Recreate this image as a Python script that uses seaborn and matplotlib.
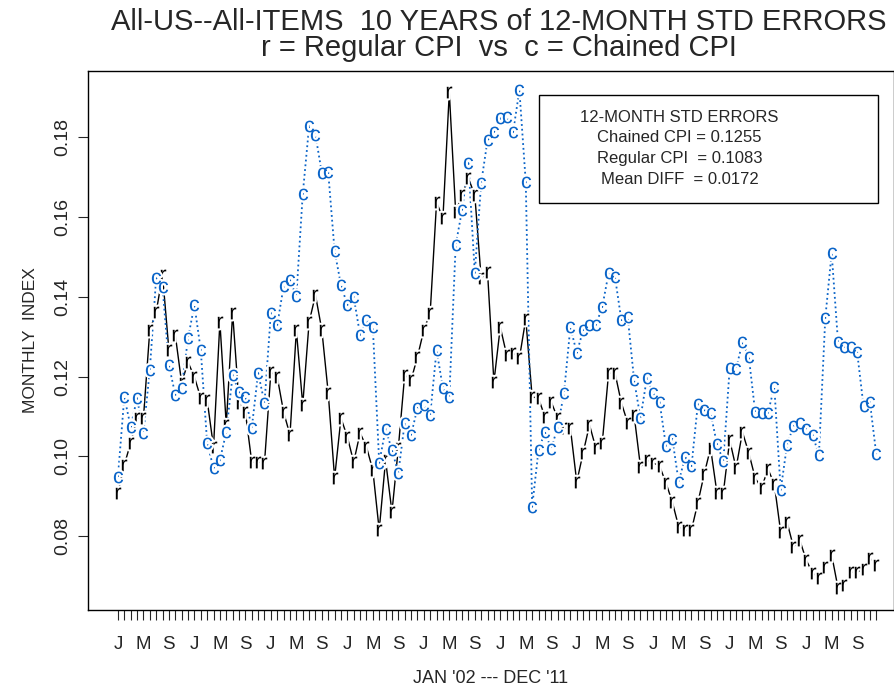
import numpy as np
import pandas as pd
import matplotlib
matplotlib.use("Agg")
import matplotlib.pyplot as plt
import seaborn as sns

# 12-month std errors, Jan 2002 .. Dec 2011
regular = [0.0909, 0.0979, 0.1034, 0.1096, 0.1096, 0.1316, 0.1361, 0.1454, 0.1266, 0.1304, 0.1184, 0.1236,
           0.1199, 0.1146, 0.1141, 0.1024, 0.1336, 0.1079, 0.1359, 0.1134, 0.1111, 0.0986, 0.0986, 0.0984,
           0.1211, 0.1199, 0.1111, 0.1054, 0.1316, 0.1129, 0.1336, 0.1404, 0.1316, 0.1159, 0.0946, 0.1096,
           0.1049, 0.0986, 0.1059, 0.1024, 0.0966, 0.0816, 0.0991, 0.0861, 0.1021, 0.1204, 0.1191, 0.1249,
           0.1316, 0.1359, 0.1636, 0.1596, 0.1911, 0.1611, 0.1654, 0.1696, 0.1654, 0.1446, 0.1461, 0.1186,
           0.1324, 0.1254, 0.1259, 0.1246, 0.1344, 0.1149, 0.1146, 0.1099, 0.1136, 0.1096, 0.1071, 0.1071,
           0.0936, 0.1009, 0.1079, 0.1021, 0.1034, 0.1209, 0.1209, 0.1134, 0.1084, 0.1104, 0.0974, 0.0991,
           0.0984, 0.0976, 0.0934, 0.0886, 0.0824, 0.0816, 0.0816, 0.0884, 0.0956, 0.1021, 0.0909, 0.0909,
           0.1041, 0.0971, 0.1061, 0.1009, 0.0946, 0.0921, 0.0969, 0.0931, 0.0811, 0.0836, 0.0774, 0.0791,
           0.0741, 0.0709, 0.0696, 0.0724, 0.0754, 0.0671, 0.0679, 0.0711, 0.0711, 0.0719, 0.0746, 0.0729]

chained = [0.0949, 0.1149, 0.1074, 0.1146, 0.1059, 0.1216, 0.1446, 0.1424, 0.1229, 0.1154, 0.1171, 0.1296,
           0.1379, 0.1266, 0.1034, 0.0971, 0.0991, 0.1061, 0.1204, 0.1161, 0.1149, 0.1071, 0.1209, 0.1134,
           0.1359, 0.1329, 0.1426, 0.1441, 0.1401, 0.1656, 0.1826, 0.1804, 0.1709, 0.1711, 0.1514, 0.1429,
           0.1379, 0.1399, 0.1304, 0.1341, 0.1324, 0.0984, 0.1069, 0.1016, 0.0959, 0.1084, 0.1054, 0.1121,
           0.1129, 0.1104, 0.1266, 0.1171, 0.1149, 0.1529, 0.1616, 0.1734, 0.1459, 0.1684, 0.1791, 0.1811,
           0.1846, 0.1849, 0.1811, 0.1916, 0.1686, 0.0874, 0.1016, 0.1061, 0.1019, 0.1074, 0.1159, 0.1324,
           0.1259, 0.1316, 0.1329, 0.1329, 0.1374, 0.1459, 0.1449, 0.1341, 0.1349, 0.1191, 0.1096, 0.1196,
           0.1159, 0.1136, 0.1026, 0.1044, 0.0936, 0.0999, 0.0976, 0.1131, 0.1116, 0.1109, 0.1031, 0.0989,
           0.1221, 0.1219, 0.1286, 0.1249, 0.1111, 0.1109, 0.1109, 0.1174, 0.0916, 0.1029, 0.1076, 0.1084,
           0.1069, 0.1054, 0.1004, 0.1346, 0.1509, 0.1286, 0.1274, 0.1274, 0.1261, 0.1126, 0.1136, 0.1006]

month_labels = ["J", "", "", "", "M", "", "", "", "S", "", "", ""] * 10
yticks = [0.08, 0.10, 0.12, 0.14, 0.16, 0.18]

box_lines = ["12-MONTH STD ERRORS", "Chained CPI = 0.1255", "Regular CPI  = 0.1083", "Mean DIFF  = 0.0172"]

months = np.arange(len(regular))
df = pd.DataFrame({"month": months, "regular": regular, "chained": chained})

sns.set_style("ticks")
plt.rcParams["font.family"] = ["Liberation Sans", "DejaVu Sans"]
plt.rcParams["mathtext.default"] = "regular"

blue = "#0a64c8"
r_mark = r"$\mathregular{r}$"
c_mark = r"$\mathregular{c}$"

fig = plt.figure(figsize=(8.95, 6.92), dpi=100)
ax = fig.add_axes([0.0983, 0.1185, 0.9007, 0.7793])

# connecting lines first
sns.lineplot(data=df, x="month", y="regular", ax=ax, color="black", linewidth=1.0)
sns.lineplot(data=df, x="month", y="chained", ax=ax, color=blue, linewidth=1.3, linestyle=":")

# white halo behind each letter, then the letter itself
for col, mk, clr in [("regular", r_mark, "black"), ("chained", c_mark, blue)]:
    sns.lineplot(data=df, x="month", y=col, ax=ax, linestyle="none", marker=mk,
                 markersize=8.5, markeredgewidth=3, markeredgecolor="white",
                 markerfacecolor="white")
    sns.lineplot(data=df, x="month", y=col, ax=ax, linestyle="none", marker=mk,
                 markersize=8.5, markeredgewidth=0, markerfacecolor=clr)

ax.set_xlim(-4.7, 121.8)
ax.set_ylim(0.0616, 0.1965)
ax.set_xticks(months)
ax.set_xticklabels(month_labels, fontsize=13.5)
ax.set_yticks(yticks)
ax.set_yticklabels([f"{v:.2f}" for v in yticks], fontsize=14, rotation=90, va="center")
ax.tick_params(axis="x", length=7, width=0.8, pad=12)
ax.tick_params(axis="y", length=7, width=0.8, pad=5)
ax.set_xlabel("JAN '02 --- DEC '11", fontsize=13, labelpad=12)
ax.set_ylabel("MONTHLY  INDEX", fontsize=12.5, labelpad=12)
for s in ax.spines.values():
    s.set_linewidth(1.0)
    s.set_color("black")

# stats box
ax.add_patch(plt.Rectangle((0.560, 0.755), 0.420, 0.200, transform=ax.transAxes,
                           fill=False, edgecolor="black", linewidth=1.0))
for txt, yy in zip(box_lines, [0.914, 0.876, 0.837, 0.798]):
    ax.text(0.734, yy, txt, transform=ax.transAxes, ha="center", va="center", fontsize=12)

fig.text(0.5575, 0.968, "All-US--All-ITEMS  10 YEARS of 12-MONTH STD ERRORS",
         ha="center", va="center", fontsize=21)
fig.text(0.5575, 0.931, "r = Regular CPI  vs  c = Chained CPI",
         ha="center", va="center", fontsize=21)

fig.savefig("out.png", dpi=100)
